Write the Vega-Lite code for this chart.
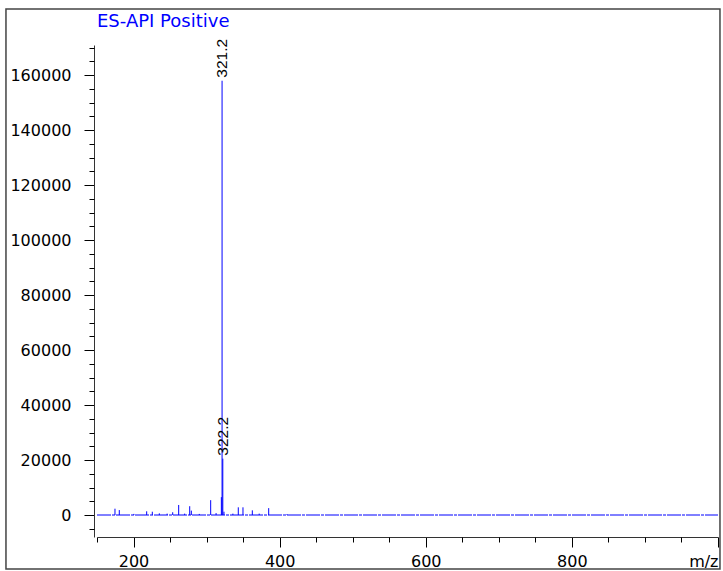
{
  "$schema": "https://vega.github.io/schema/vega-lite/v6.json",
  "width": 621,
  "height": 492,
  "autosize": {"type": "none"},
  "padding": {"left": 97, "top": 45, "right": 5, "bottom": 34},
  "background": "white",
  "config": {"view": {"stroke": null}, "font": "DejaVu Sans"},
  "title": {
    "text": "ES-API Positive",
    "anchor": "start",
    "frame": "group",
    "color": "#0000ff",
    "fontSize": 18,
    "fontWeight": "normal",
    "font": "DejaVu Sans",
    "baseline": "alphabetic",
    "offset": 0,
    "dy": 37
  },
  "datasets": {
    "peaks": [
      {"mz": 174.6, "intensity": 2300},
      {"mz": 180.5, "intensity": 1800},
      {"mz": 200.5, "intensity": 400},
      {"mz": 218.0, "intensity": 1350},
      {"mz": 225.7, "intensity": 1200},
      {"mz": 235.3, "intensity": 600},
      {"mz": 246.0, "intensity": 500},
      {"mz": 253.6, "intensity": 1000},
      {"mz": 261.8, "intensity": 3650},
      {"mz": 270.0, "intensity": 500},
      {"mz": 276.9, "intensity": 3200},
      {"mz": 279.1, "intensity": 1600},
      {"mz": 290.0, "intensity": 400},
      {"mz": 305.6, "intensity": 5400},
      {"mz": 313.0, "intensity": 700},
      {"mz": 320.2, "intensity": 6500},
      {"mz": 321.2, "intensity": 158000, "label": "321.2"},
      {"mz": 322.2, "intensity": 20500, "label": "322.2"},
      {"mz": 323.8, "intensity": 1200},
      {"mz": 336.0, "intensity": 500},
      {"mz": 343.4, "intensity": 2800},
      {"mz": 349.8, "intensity": 2800},
      {"mz": 362.6, "intensity": 1700},
      {"mz": 372.0, "intensity": 500},
      {"mz": 385.0, "intensity": 2500},
      {"mz": 410.0, "intensity": 300}
    ],
    "baseline": [
      {"mz": 150, "intensity": 0},
      {"mz": 1000, "intensity": 0}
    ]
  },
  "resolve": {"axis": {"x": "independent", "y": "independent"}},
  "layer": [
    {
      "data": {"name": "baseline"},
      "mark": {"type": "line", "color": "#0000ff", "strokeWidth": 1, "strokeDash": [14, 1, 3, 1]},
      "encoding": {
        "x": {
          "field": "mz",
          "type": "quantitative",
          "scale": {"domain": [150, 1000], "nice": false, "zero": false},
          "axis": {
            "orient": "bottom",
            "values": [200, 400, 600, 800, 1000],
            "format": "d",
            "labelExpr": "datum.value < 1000 ? datum.label : ''",
            "labelFont": "DejaVu Sans",
            "labelFontSize": 16,
            "labelColor": "#000000",
            "labelPadding": 6,
            "labelBaseline": "top",
            "labelOverlap": false,
            "labelFlush": false,
            "tickSize": 10,
            "tickColor": "#000000",
            "domainColor": "#333333",
            "grid": false,
            "title": "m/z",
            "titleX": 621,
            "titleY": 29,
            "titleAlign": "right",
            "titleBaseline": "alphabetic",
            "titleAngle": 0,
            "titleFont": "DejaVu Sans",
            "titleFontSize": 16,
            "titleFontWeight": "normal",
            "titleColor": "#000000"
          }
        },
        "y": {
          "field": "intensity",
          "type": "quantitative",
          "scale": {"domain": [-8000, 171000], "nice": false, "zero": false},
          "axis": {
            "orient": "left",
            "values": [0, 20000, 40000, 60000, 80000, 100000, 120000, 140000, 160000],
            "format": "d",
            "labelFont": "DejaVu Sans",
            "labelFontSize": 16,
            "labelColor": "#000000",
            "labelPadding": 13,
            "labelOverlap": false,
            "labelFlush": false,
            "tickSize": 10,
            "tickColor": "#000000",
            "domainColor": "#333333",
            "offset": 3,
            "grid": false,
            "title": null
          }
        }
      }
    },
    {
      "data": {"name": "peaks"},
      "mark": {"type": "rule", "color": "#0000ff", "strokeWidth": 1},
      "encoding": {
        "x": {
          "field": "mz",
          "type": "quantitative",
          "axis": {
            "orient": "bottom",
            "values": [150, 250, 300, 350, 450, 500, 550, 650, 700, 750, 850, 900, 950],
            "labels": false,
            "domain": false,
            "tickSize": 5,
            "tickColor": "#000000",
            "grid": false,
            "title": null
          }
        },
        "y": {
          "field": "intensity",
          "type": "quantitative",
          "axis": {
            "orient": "left",
            "values": [-5000, 5000, 10000, 15000, 25000, 30000, 35000, 45000, 50000, 55000, 65000, 70000, 75000, 85000, 90000, 95000, 105000, 110000, 115000, 125000, 130000, 135000, 145000, 150000, 155000, 165000, 170000],
            "labels": false,
            "domain": false,
            "tickSize": 5,
            "tickColor": "#000000",
            "offset": 3,
            "grid": false,
            "title": null
          }
        },
        "y2": {"datum": 0}
      }
    },
    {
      "data": {"name": "peaks"},
      "transform": [{"filter": "datum.label != null"}],
      "mark": {"type": "text", "angle": 270, "align": "left", "baseline": "middle", "dx": 3, "font": "Liberation Sans", "fontSize": 15.5, "color": "#000000"},
      "encoding": {
        "x": {"field": "mz", "type": "quantitative", "axis": null},
        "y": {"field": "intensity", "type": "quantitative", "axis": null},
        "text": {"field": "label"}
      }
    },
    {
      "data": {"values": [{}]},
      "mark": {"type": "rect", "fill": null, "stroke": "#444444", "strokeWidth": 1.5, "clip": false},
      "encoding": {
        "x": {"datum": 25.4, "type": "quantitative", "axis": null},
        "x2": {"datum": 1002.7},
        "y": {"datum": 184100, "type": "quantitative", "axis": null},
        "y2": {"datum": -19640}
      }
    }
  ]
}
